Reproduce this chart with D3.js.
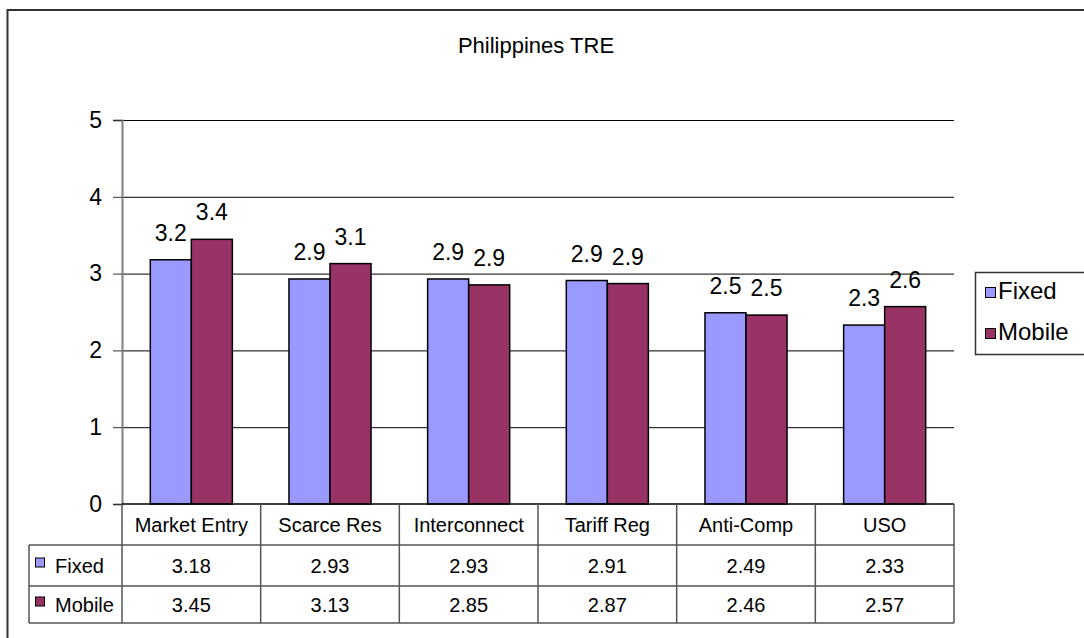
<!DOCTYPE html>
<html>
<head>
<meta charset="utf-8">
<script src="https://cdn.jsdelivr.net/npm/d3@7"></script>
<style>
  html, body { margin: 0; padding: 0; background: #fff; }
  svg { display: block; font-family: "Liberation Sans", Arial, sans-serif; }
</style>
</head>
<body>
<svg id="chart" width="1084" height="638"></svg>
<script>
// Philippines TRE scores by regulatory dimension
const categories = ["Market Entry", "Scarce Res", "Interconnect", "Tariff Reg", "Anti-Comp", "USO"];
const seriesNames = ["Fixed", "Mobile"];
const fixedValues = [3.18, 2.93, 2.93, 2.91, 2.49, 2.33];
const mobileValues = [3.446, 3.13, 2.853, 2.87, 2.46, 2.57];
const yTicks = [0, 1, 2, 3, 4, 5];
const colors = ["#9999FF", "#993366"];

const series = [fixedValues, mobileValues];

const svg = d3.select("#chart");

const plot = { left: 122, right: 954, top: 120, bottom: 504 };
const tableRows = [504, 545, 586, 623];
const rowLabelLeft = 29;

// Chart frame
svg.append("rect")
  .attr("x", 7.5).attr("y", 10)
  .attr("width", 1200).attr("height", 700)
  .attr("fill", "#fff").attr("stroke", "#333").attr("stroke-width", 2);

// Title
svg.append("text")
  .attr("x", 536).attr("y", 53)
  .attr("text-anchor", "middle")
  .attr("font-size", 22)
  .text("Philippines TRE");

const y = d3.scaleLinear().domain([0, 5]).range([plot.bottom, plot.top]);
const x0 = d3.scaleBand().domain(categories).range([plot.left, plot.right]).paddingInner(0).paddingOuter(0);
const x1 = d3.scaleBand().domain(seriesNames).range([0, x0.bandwidth()]).paddingInner(0).paddingOuter(0.69);

// Gridlines
svg.append("g")
  .selectAll("line")
  .data(yTicks.filter(t => t > 0))
  .join("line")
  .attr("x1", plot.left).attr("x2", plot.right)
  .attr("y1", d => y(d) + 0.5).attr("y2", d => y(d) + 0.5)
  .attr("stroke", "#000").attr("stroke-width", 1);

// Y axis
const yAxis = d3.axisLeft(y).tickValues(yTicks).tickSize(9).tickPadding(11).tickFormat(d3.format("d"));
const gy = svg.append("g").attr("transform", `translate(${plot.left},0)`).call(yAxis);
gy.select(".domain").attr("stroke", "#808080").attr("stroke-width", 2);
gy.selectAll(".tick line").attr("stroke", "#333").attr("stroke-width", 1);
gy.selectAll(".tick text").attr("font-size", 23).attr("font-family", "Liberation Sans, Arial, sans-serif").attr("fill", "#000");

const fmt1 = d3.format(".1f");
const fmt2 = d3.format(".2f");

// Bars
const groups = svg.append("g")
  .selectAll("g")
  .data(categories)
  .join("g")
  .attr("transform", d => `translate(${x0(d)},0)`);

groups.selectAll("rect")
  .data((c, i) => seriesNames.map((s, k) => ({ s, k, v: series[k][i] })))
  .join("rect")
  .attr("x", d => x1(d.s))
  .attr("y", d => y(d.v))
  .attr("width", x1.bandwidth())
  .attr("height", d => y(0) - y(d.v))
  .attr("fill", d => colors[d.k])
  .attr("stroke", "#000").attr("stroke-width", 1.5);

groups.selectAll("text")
  .data((c, i) => seriesNames.map((s, k) => ({ s, k, v: series[k][i] })))
  .join("text")
  .attr("x", d => x1(d.s) + x1.bandwidth() / 2)
  .attr("y", d => y(d.v) - 19)
  .attr("text-anchor", "middle")
  .attr("font-size", 23)
  .text(d => fmt1(d.v));

// Data table
const table = svg.append("g");
const lineStyle = sel => sel.attr("stroke", "#555").attr("stroke-width", 1.5);

// horizontal rules
table.append("line").attr("x1", plot.left).attr("x2", plot.right).attr("y1", tableRows[0]).attr("y2", tableRows[0]).call(lineStyle).attr("stroke", "#000");
[1, 2, 3].forEach(r => {
  table.append("line").attr("x1", rowLabelLeft).attr("x2", plot.right)
    .attr("y1", tableRows[r]).attr("y2", tableRows[r]).call(lineStyle);
});
// vertical rules
table.append("line").attr("x1", rowLabelLeft).attr("x2", rowLabelLeft).attr("y1", tableRows[1]).attr("y2", tableRows[3]).call(lineStyle);
const bounds = categories.map(c => x0(c)).concat([plot.right]);
bounds.forEach(bx => {
  table.append("line").attr("x1", bx).attr("x2", bx).attr("y1", tableRows[0]).attr("y2", tableRows[3]).call(lineStyle);
});

// header row
table.selectAll("text.cat")
  .data(categories)
  .join("text")
  .attr("class", "cat")
  .attr("x", d => x0(d) + x0.bandwidth() / 2)
  .attr("y", (tableRows[0] + tableRows[1]) / 2 + 7)
  .attr("text-anchor", "middle")
  .attr("font-size", 20)
  .text(d => d);

// value rows
series.forEach((vals, k) => {
  const cy = (tableRows[k + 1] + tableRows[k + 2]) / 2 + 7;
  table.append("rect")
    .attr("x", 35.5).attr("y", cy - 14.5)
    .attr("width", 9).attr("height", 9)
    .attr("fill", colors[k]).attr("stroke", "#000").attr("stroke-width", 1);
  table.append("text")
    .attr("x", 55).attr("y", cy)
    .attr("font-size", 20)
    .text(seriesNames[k]);
  table.selectAll(null)
    .data(vals)
    .join("text")
    .attr("x", (v, i) => x0(categories[i]) + x0.bandwidth() / 2)
    .attr("y", cy)
    .attr("text-anchor", "middle")
    .attr("font-size", 20)
    .text(v => fmt2(v));
});

// Legend
const legend = svg.append("g");
legend.append("rect")
  .attr("x", 975.5).attr("y", 272.5)
  .attr("width", 200).attr("height", 82)
  .attr("fill", "#fff").attr("stroke", "#333").attr("stroke-width", 1.5);
seriesNames.forEach((s, k) => {
  const ly = 299 + k * 41;
  legend.append("rect")
    .attr("x", 985.5).attr("y", ly - 11.5)
    .attr("width", 10).attr("height", 10)
    .attr("fill", colors[k]).attr("stroke", "#000").attr("stroke-width", 1);
  legend.append("text")
    .attr("x", 998).attr("y", ly)
    .attr("font-size", 24)
    .text(s);
});
</script>
</body>
</html>
